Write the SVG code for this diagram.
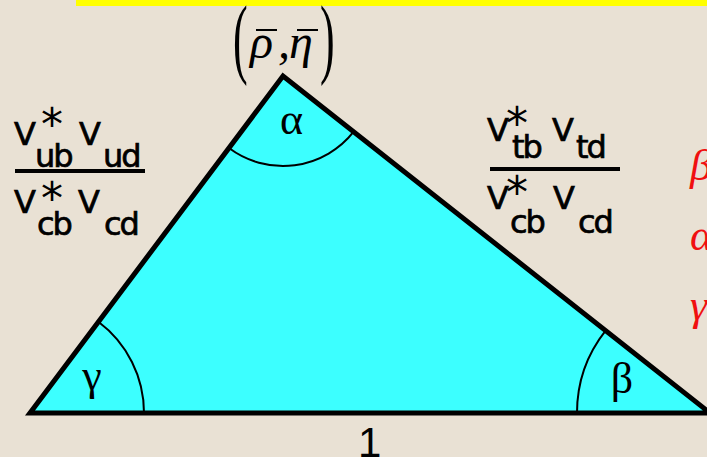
<svg xmlns="http://www.w3.org/2000/svg" width="707" height="457" viewBox="0 0 707 457">
<style>
.v{font-family:"DejaVu Sans",sans-serif;font-size:32px;fill:#000;stroke:#000;stroke-width:0.7}
.s{font-family:"DejaVu Sans",sans-serif;font-size:32px;letter-spacing:-2px;fill:#000;stroke:#000;stroke-width:0.7}
.st{font-family:"DejaVu Sans",sans-serif;font-size:44px;fill:#000}
.g{font-family:"Liberation Serif",serif;font-size:44px;fill:#000;text-anchor:middle}
.r{font-family:"Liberation Serif",serif;font-size:44px;font-style:italic;fill:#F01010}
.m{font-family:"Liberation Serif",serif;font-size:48px;font-style:italic;fill:#000}
.p{font-family:"Liberation Serif",serif;font-size:44px;fill:#000}
.arc{fill:none;stroke:#000;stroke-width:2}
.bar{stroke:#000;stroke-width:4}
.ob{stroke:#000;stroke-width:2}
</style>
<rect x="0" y="0" width="707" height="457" fill="#E9E1D4"/>
<rect x="76" y="0" width="631" height="6" fill="#FFFF00"/>

<g id="triangle">
<polygon points="30,413 283,76 710,413" fill="#3CFFFF" stroke="#000" stroke-width="5" stroke-linejoin="miter"/>
<path class="arc" d="M229,148 A90 90 0 0 0 353.7,131.7"/>
<path class="arc" d="M144,413 A114 114 0 0 0 98.4,321.8"/>
<path class="arc" d="M577,413 A133 133 0 0 1 605.6,330.6"/>
<text class="g" x="291.5" y="134">α</text>
<text class="g" x="92" y="390">γ</text>
<text class="g" x="622" y="393">β</text>
</g>

<g id="apex-label">
<text class="p" transform="translate(233,0) scale(1,2)" x="0" y="33.7">(</text>
<text class="m" x="250" y="58">ρ</text>
<line class="ob" x1="256" y1="30" x2="277" y2="30"/>
<text class="m" x="278" y="58">,</text>
<text class="m" x="289" y="58">η</text>
<line class="ob" x1="297" y1="30" x2="318" y2="30"/>
<text class="p" transform="translate(320,0) scale(1,2)" x="0" y="33.7">)</text>
</g>

<g id="left-ratio">
<text class="v" x="14" y="145">V</text>
<text class="st" x="41" y="140">*</text>
<text class="s" x="35" y="167">ub</text>
<text class="v" x="79" y="145">V</text>
<text class="s" x="103" y="167">ud</text>
<line class="bar" x1="15" y1="171" x2="145" y2="171"/>
<text class="v" x="14" y="213">V</text>
<text class="st" x="41" y="214">*</text>
<text class="s" x="37" y="235">cb</text>
<text class="v" x="78" y="213">V</text>
<text class="s" x="104" y="235">cd</text>
</g>

<g id="right-ratio">
<text class="v" x="487" y="141">V</text>
<text class="st" x="506" y="139">*</text>
<text class="s" x="512" y="158">tb</text>
<text class="v" x="552" y="141">V</text>
<text class="s" x="576" y="158">td</text>
<line class="bar" x1="490" y1="169" x2="620" y2="169"/>
<text class="v" x="487" y="209">V</text>
<text class="st" x="506" y="208">*</text>
<text class="s" x="510" y="233">cb</text>
<text class="v" x="553" y="209">V</text>
<text class="s" x="578" y="233">cd</text>
</g>

<g id="base-label">
<text x="358" y="457" style="font-family:'Liberation Sans',sans-serif;font-size:42px;fill:#000">1</text>
</g>

<g id="red-angles">
<text class="r" x="690" y="180">β</text>
<text class="r" x="690" y="250">α</text>
<text class="r" x="690" y="320">γ</text>
</g>
</svg>
